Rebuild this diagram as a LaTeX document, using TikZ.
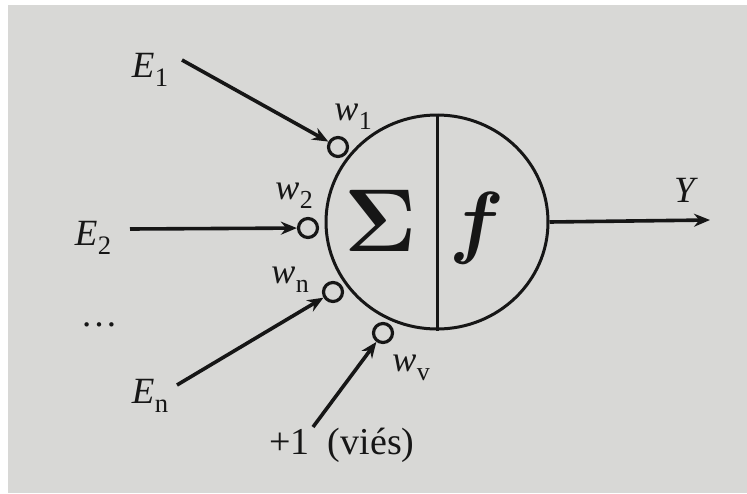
\documentclass[tikz,border=0pt]{standalone}
\usepackage{amsmath}
\usepackage{fontspec}
\setmainfont{Liberation Serif}
\usetikzlibrary{arrows.meta,shapes.geometric}
\definecolor{paper}{RGB}{216,216,214}
\definecolor{ink}{RGB}{22,22,22}
\newcommand\sublbl[2]{\textit{#1}\kern0.5pt\raisebox{-0.25em}{\scalebox{0.72}{#2}}}
\tikzset{
  lbl/.style={inner sep=0pt, font=\fontsize{37}{40}\selectfont, text=ink},
  wlbl/.style={inner sep=0pt, font=\fontsize{36}{40}\selectfont, text=ink},
  bigsym/.style={inner sep=0pt, font=\fontsize{20}{24}\selectfont, text=ink},
  syn/.style={draw=ink, circle, line width=3.2pt, minimum size=19pt, inner sep=0pt},
  inarrow/.style={draw=ink, line width=3.6pt, -{Stealth[length=16pt,width=13pt]}},
  body/.style={draw=ink, ellipse, line width=3pt, minimum width=222pt, minimum height=214pt, inner sep=0pt}
}
\begin{document}
\begin{tikzpicture}[x=1pt,y=-1pt]
\useasboundingbox (0,0) rectangle (747,493);
\fill[white] (0,0) rectangle (747,493);
\fill[paper] (8,5) rectangle (747,493);
% neuron body
\node[body] (n) at (437,222) {};
\draw[ink, line width=3pt] (n.north) -- (n.south);
\node[bigsym] (sig) at (381,221) {\scalebox{4.3}{$\boldsymbol{\Sigma}$}};
\node[bigsym] (ff) at (477,228) {\scalebox{3.9}{$\boldsymbol{f}$}};
% synapses
\node[syn] (c1) at (338,147) {};
\node[syn] (c2) at (308,228) {};
\node[syn] (cn) at (333,292) {};
\node[syn] (cv) at (383,333) {};
% inputs
\node[lbl] (e1) at (150,70) {\sublbl{E}{1}};
\node[lbl] (e2) at (93,238) {\sublbl{E}{2}};
\node[lbl] (dots) at (99,325) {…};
\node[lbl] (en) at (150,396) {\sublbl{E}{n}};
\node[lbl, font=\fontsize{38}{40}\selectfont] (bias) at (342,445) {+1\hspace{18pt}(viés)};
\coordinate (s1) at (182,60);
\coordinate (s2) at (130,229);
\coordinate (sn) at (177,385);
\coordinate (sv) at (313,427);
\draw[inarrow] (s1) -- (c1);
\draw[inarrow] (s2) -- (c2);
\draw[inarrow] (sn) -- (cn);
\draw[inarrow] (sv) -- (cv);
% weights
\node[wlbl] (w1) at (353,117) {\sublbl{w}{1}};
\node[wlbl] (w2) at (294,196) {\sublbl{w}{2}};
\node[wlbl] (wn) at (290,280) {\sublbl{w}{n}};
\node[wlbl] (wv) at (411,368) {\sublbl{w}{v}};
% output
\coordinate (yend) at (710,220);
\draw[inarrow] (n.east) -- (yend);
\node[lbl] (y) at (686,190) {\textit{Y}};
\end{tikzpicture}
\end{document}
